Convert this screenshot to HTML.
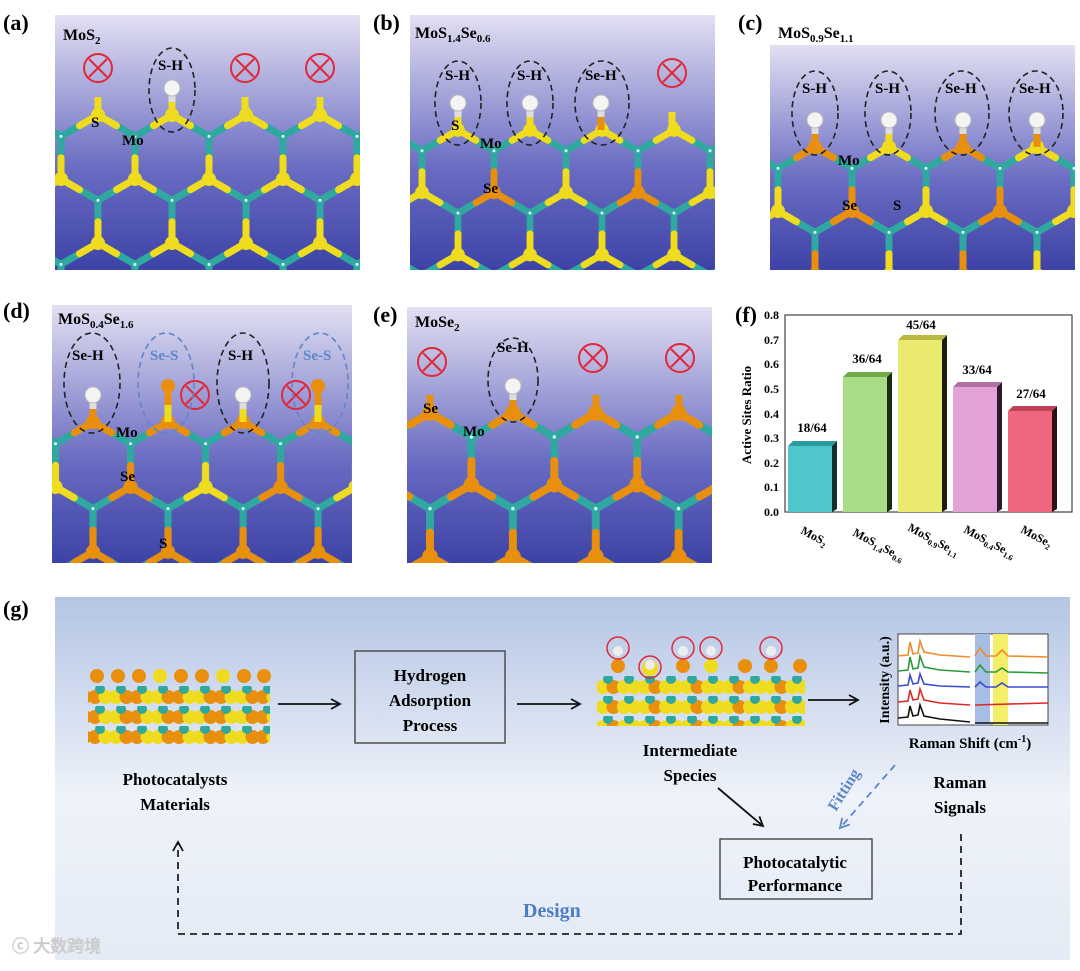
<!DOCTYPE html>
<html><head><meta charset="utf-8">
<style>
html,body{margin:0;padding:0;background:#fff;}
body{width:1080px;height:966px;overflow:hidden;position:relative;font-family:"Liberation Serif",serif;}
svg text{font-family:"Liberation Serif",serif;font-weight:bold;}
</style></head>
<body>
<svg width="1080" height="966" xmlns="http://www.w3.org/2000/svg" xmlns:xlink="http://www.w3.org/1999/xlink">
<defs>
<linearGradient id="pg" x1="0" y1="0" x2="0" y2="1">
<stop offset="0" stop-color="#e2e0f2"/><stop offset="0.3" stop-color="#a6a6da"/><stop offset="0.6" stop-color="#6a6cc2"/><stop offset="1" stop-color="#3d43a6"/>
</linearGradient>
<linearGradient id="gg" x1="0" y1="0" x2="0" y2="1">
<stop offset="0" stop-color="#b4c5e4"/><stop offset="0.55" stop-color="#eef2f9"/><stop offset="1" stop-color="#e4ebf6"/>
</linearGradient>
<marker id="ar" markerWidth="12" markerHeight="12" refX="10" refY="6" orient="auto" markerUnits="userSpaceOnUse"><path d="M1,1 L10,6 L1,11" fill="none" stroke="#111" stroke-width="1.8"/></marker>
<marker id="arb" markerWidth="12" markerHeight="12" refX="10" refY="6" orient="auto" markerUnits="userSpaceOnUse"><path d="M1,1 L10,6 L1,11" fill="none" stroke="#5b86c8" stroke-width="1.8"/></marker>

<g id="tile">
 <g stroke="#2fa8a0" stroke-width="7" stroke-linecap="round">
  <line x1="0" y1="0" x2="37" y2="21.4"/><line x1="74" y1="0" x2="37" y2="21.4"/><line x1="74" y1="0" x2="111" y2="21.4"/><line x1="148" y1="0" x2="111" y2="21.4"/>
  <line x1="37" y1="21.4" x2="37" y2="64"/><line x1="111" y1="21.4" x2="111" y2="64"/>
  <line x1="37" y1="64" x2="0" y2="85.4"/><line x1="37" y1="64" x2="74" y2="85.4"/><line x1="111" y1="64" x2="74" y2="85.4"/><line x1="111" y1="64" x2="148" y2="85.4"/>
  <line x1="0" y1="85.4" x2="0" y2="128"/><line x1="74" y1="85.4" x2="74" y2="128"/><line x1="148" y1="85.4" x2="148" y2="128"/>
 </g>
 <g stroke-width="7" stroke-linecap="round">
  <g style="stroke:var(--a0)"><line x1="0" y1="0" x2="18.5" y2="10.7"/><line x1="148" y1="0" x2="129.5" y2="10.7"/><line x1="0" y1="128" x2="0" y2="106.7"/><line x1="148" y1="128" x2="148" y2="106.7"/></g>
  <g style="stroke:var(--a1)"><line x1="74" y1="0" x2="55.5" y2="10.7"/><line x1="74" y1="0" x2="92.5" y2="10.7"/><line x1="74" y1="128" x2="74" y2="106.7"/></g>
  <g style="stroke:var(--b0)"><line x1="37" y1="64" x2="37" y2="42.7"/><line x1="37" y1="64" x2="18.5" y2="74.7"/><line x1="37" y1="64" x2="55.5" y2="74.7"/></g>
  <g style="stroke:var(--b1)"><line x1="111" y1="64" x2="111" y2="42.7"/><line x1="111" y1="64" x2="92.5" y2="74.7"/><line x1="111" y1="64" x2="129.5" y2="74.7"/></g>
 </g>
 <g style="fill:var(--a0)"><circle cx="0" cy="0" r="7"/><circle cx="148" cy="0" r="7"/><circle cx="0" cy="128" r="7"/><circle cx="148" cy="128" r="7"/></g>
 <g style="fill:var(--a1)"><circle cx="74" cy="0" r="7"/><circle cx="74" cy="128" r="7"/></g>
 <circle cx="37" cy="64" r="7" style="fill:var(--b0)"/>
 <circle cx="111" cy="64" r="7" style="fill:var(--b1)"/>
 <g fill="#2fa8a0"><circle cx="37" cy="21.4" r="4.5"/><circle cx="111" cy="21.4" r="4.5"/><circle cx="0" cy="85.4" r="4.5"/><circle cx="74" cy="85.4" r="4.5"/><circle cx="148" cy="85.4" r="4.5"/></g>
 <g fill="#dff"><circle cx="37" cy="21.4" r="1.5"/><circle cx="111" cy="21.4" r="1.5"/><circle cx="0" cy="85.4" r="1.5"/><circle cx="74" cy="85.4" r="1.5"/><circle cx="148" cy="85.4" r="1.5"/></g>
</g>

<pattern id="pa" patternUnits="userSpaceOnUse" width="148" height="128" patternTransform="translate(98,115)"><use xlink:href="#tile" href="#tile" style="--a0:#f0dc1e;--a1:#f0dc1e;--b0:#f0dc1e;--b1:#f0dc1e"/></pattern>
<pattern id="pb" patternUnits="userSpaceOnUse" width="148" height="128" patternTransform="translate(458,130) scale(0.973)"><use xlink:href="#tile" href="#tile" style="--a0:#f0dc1e;--a1:#f0dc1e;--b0:#e8900e;--b1:#f0dc1e"/></pattern>
<pattern id="pc" patternUnits="userSpaceOnUse" width="148" height="128" patternTransform="translate(815,147)"><use xlink:href="#tile" href="#tile" style="--a0:#e8900e;--a1:#f0dc1e;--b0:#e8900e;--b1:#f0dc1e"/></pattern>
<pattern id="pd" patternUnits="userSpaceOnUse" width="148" height="128" patternTransform="translate(93,422) scale(1.014)"><use xlink:href="#tile" href="#tile" style="--a0:#e8900e;--a1:#e8900e;--b0:#e8900e;--b1:#f0dc1e"/></pattern>
<pattern id="pe" patternUnits="userSpaceOnUse" width="148" height="128" patternTransform="translate(430,413) scale(1.12)"><use xlink:href="#tile" href="#tile" style="--a0:#e8900e;--a1:#e8900e;--b0:#e8900e;--b1:#e8900e"/></pattern>

<pattern id="ps" patternUnits="userSpaceOnUse" width="42" height="20" patternTransform="translate(90,686)">
 <circle cx="5" cy="11" r="7" fill="#e8900e"/><circle cx="15.5" cy="11" r="7" fill="#f0dc1e"/><circle cx="26" cy="11" r="7" fill="#f0dc1e"/><circle cx="36.5" cy="11" r="7" fill="#e8900e"/>
 <circle cx="10" cy="3" r="5" fill="#2fa8a0"/><circle cx="31" cy="3" r="5" fill="#2fa8a0"/>
</pattern>
<pattern id="ps2" patternUnits="userSpaceOnUse" width="42" height="20" patternTransform="translate(598,676)">
 <circle cx="5" cy="11" r="7" fill="#f0dc1e"/><circle cx="15.5" cy="11" r="7" fill="#e8900e"/><circle cx="26" cy="11" r="7" fill="#f0dc1e"/><circle cx="36.5" cy="11" r="7" fill="#f0dc1e"/>
 <circle cx="10" cy="3" r="5" fill="#2fa8a0"/><circle cx="31" cy="3" r="5" fill="#2fa8a0"/>
</pattern>
</defs>

<!-- panel backgrounds + lattices -->
<rect x="55" y="15" width="305" height="255" fill="url(#pg)"/>
<rect x="55" y="107" width="305" height="163" fill="url(#pa)"/>
<rect x="410" y="15" width="305" height="255" fill="url(#pg)"/>
<rect x="410" y="122" width="305" height="148" fill="url(#pb)"/>
<rect x="770" y="45" width="305" height="225" fill="url(#pg)"/>
<rect x="770" y="139" width="305" height="131" fill="url(#pc)"/>
<rect x="52" y="305" width="300" height="258" fill="url(#pg)"/>
<rect x="52" y="414" width="300" height="149" fill="url(#pd)"/>
<rect x="407" y="307" width="305" height="256" fill="url(#pg)"/>
<rect x="407" y="405" width="305" height="158" fill="url(#pe)"/>

<!-- top sticks / H atoms -->
<g stroke-width="7">
 <!-- a -->
 <line x1="98" y1="115" x2="98" y2="97" stroke="#f0dc1e"/><line x1="245" y1="115" x2="245" y2="97" stroke="#f0dc1e"/><line x1="320" y1="115" x2="320" y2="97" stroke="#f0dc1e"/>
 <line x1="172" y1="115" x2="172" y2="102" stroke="#f0dc1e"/><line x1="172" y1="102" x2="172" y2="90" stroke="#ddd"/>
 <!-- b -->
 <line x1="458" y1="130" x2="458" y2="117" stroke="#f0dc1e"/><line x1="458" y1="117" x2="458" y2="105" stroke="#ddd"/>
 <line x1="530" y1="130" x2="530" y2="117" stroke="#f0dc1e"/><line x1="530" y1="117" x2="530" y2="105" stroke="#ddd"/>
 <line x1="601" y1="130" x2="601" y2="117" stroke="#e8900e"/><line x1="601" y1="117" x2="601" y2="105" stroke="#ddd"/>
 <line x1="672" y1="130" x2="672" y2="112" stroke="#f0dc1e"/>
 <!-- c -->
 <line x1="815" y1="147" x2="815" y2="134" stroke="#e8900e"/><line x1="815" y1="134" x2="815" y2="122" stroke="#ddd"/>
 <line x1="889" y1="147" x2="889" y2="134" stroke="#f0dc1e"/><line x1="889" y1="134" x2="889" y2="122" stroke="#ddd"/>
 <line x1="963" y1="147" x2="963" y2="134" stroke="#e8900e"/><line x1="963" y1="134" x2="963" y2="122" stroke="#ddd"/>
 <line x1="1037" y1="147" x2="1037" y2="134" stroke="#e8900e"/><line x1="1037" y1="134" x2="1037" y2="122" stroke="#ddd"/>
 <!-- d -->
 <line x1="93" y1="422" x2="93" y2="409" stroke="#e8900e"/><line x1="93" y1="409" x2="93" y2="397" stroke="#ddd"/>
 <line x1="168" y1="422" x2="168" y2="405" stroke="#f0dc1e"/><line x1="168" y1="405" x2="168" y2="388" stroke="#e8900e"/>
 <line x1="243" y1="422" x2="243" y2="409" stroke="#f0dc1e"/><line x1="243" y1="409" x2="243" y2="397" stroke="#ddd"/>
 <line x1="318" y1="422" x2="318" y2="405" stroke="#f0dc1e"/><line x1="318" y1="405" x2="318" y2="388" stroke="#e8900e"/>
 <!-- e -->
 <line x1="430" y1="413" x2="430" y2="395" stroke="#e8900e"/><line x1="596" y1="413" x2="596" y2="395" stroke="#e8900e"/><line x1="679" y1="413" x2="679" y2="395" stroke="#e8900e"/>
 <line x1="513" y1="413" x2="513" y2="400" stroke="#e8900e"/><line x1="513" y1="400" x2="513" y2="388" stroke="#ddd"/>
</g>
<g fill="#f4f4f4" stroke="#bbb" stroke-width="1">
 <circle cx="172" cy="88" r="8"/><circle cx="458" cy="103" r="8"/><circle cx="530" cy="103" r="8"/><circle cx="601" cy="103" r="8"/>
 <circle cx="815" cy="120" r="8"/><circle cx="889" cy="120" r="8"/><circle cx="963" cy="120" r="8"/><circle cx="1037" cy="120" r="8"/>
 <circle cx="93" cy="395" r="8"/><circle cx="243" cy="395" r="8"/><circle cx="513" cy="386" r="8"/>
</g>
<circle cx="168" cy="386" r="7" fill="#e8900e"/><circle cx="318" cy="386" r="7" fill="#e8900e"/>

<!-- crossed circles -->
<g fill="none" stroke="#e0283a" stroke-width="2">
 <circle cx="98" cy="68" r="14"/><path d="M89,59L107,77M107,59L89,77"/>
 <circle cx="245" cy="68" r="14"/><path d="M236,59L254,77M254,59L236,77"/>
 <circle cx="320" cy="68" r="14"/><path d="M311,59L329,77M329,59L311,77"/>
 <circle cx="672" cy="73" r="14"/><path d="M663,64L681,82M681,64L663,82"/>
 <circle cx="195" cy="395" r="14"/><path d="M186,386L204,404M204,386L186,404"/>
 <circle cx="296" cy="395" r="14"/><path d="M287,386L305,404M305,386L287,404"/>
 <circle cx="432" cy="362" r="14"/><path d="M423,353L441,371M441,353L423,371"/>
 <circle cx="593" cy="358" r="14"/><path d="M584,349L602,367M602,349L584,367"/>
 <circle cx="680" cy="358" r="14"/><path d="M671,349L689,367M689,349L671,367"/>
</g>

<!-- panel labels -->
<text x="3" y="30" font-size="22">(a)</text>
<text x="373" y="30" font-size="22">(b)</text>
<text x="738" y="30" font-size="22">(c)</text>
<text x="3" y="318" font-size="22">(d)</text>
<text x="373" y="322" font-size="22">(e)</text>
<text x="735" y="322" font-size="22">(f)</text>
<text x="3" y="616" font-size="22">(g)</text>

<!-- (a) -->
<text x="63" y="40" font-size="16">MoS<tspan font-size="11" dy="4">2</tspan></text>
<ellipse cx="172" cy="90" rx="23" ry="42" fill="none" stroke="#222" stroke-width="1.6" stroke-dasharray="6,4"/>
<text x="158" y="70" font-size="15">S-H</text>
<text x="91" y="127" font-size="15">S</text>
<text x="122" y="145" font-size="15">Mo</text>

<!-- (b) -->
<text x="415" y="38" font-size="16">MoS<tspan font-size="11" dy="4">1.4</tspan><tspan dy="-4">Se</tspan><tspan font-size="11" dy="4">0.6</tspan></text>
<ellipse cx="458" cy="103" rx="23" ry="42" fill="none" stroke="#222" stroke-width="1.6" stroke-dasharray="6,4"/>
<ellipse cx="530" cy="103" rx="23" ry="42" fill="none" stroke="#222" stroke-width="1.6" stroke-dasharray="6,4"/>
<ellipse cx="602" cy="103" rx="27" ry="42" fill="none" stroke="#222" stroke-width="1.6" stroke-dasharray="6,4"/>
<text x="445" y="80" font-size="15">S-H</text>
<text x="517" y="80" font-size="15">S-H</text>
<text x="585" y="80" font-size="15">Se-H</text>
<text x="451" y="130" font-size="15">S</text>
<text x="480" y="148" font-size="15">Mo</text>
<text x="483" y="193" font-size="15">Se</text>

<!-- (c) -->
<text x="778" y="38" font-size="16">MoS<tspan font-size="11" dy="4">0.9</tspan><tspan dy="-4">Se</tspan><tspan font-size="11" dy="4">1.1</tspan></text>
<ellipse cx="815" cy="113" rx="23" ry="42" fill="none" stroke="#222" stroke-width="1.6" stroke-dasharray="6,4"/>
<ellipse cx="888" cy="113" rx="23" ry="42" fill="none" stroke="#222" stroke-width="1.6" stroke-dasharray="6,4"/>
<ellipse cx="962" cy="113" rx="27" ry="42" fill="none" stroke="#222" stroke-width="1.6" stroke-dasharray="6,4"/>
<ellipse cx="1036" cy="113" rx="27" ry="42" fill="none" stroke="#222" stroke-width="1.6" stroke-dasharray="6,4"/>
<text x="802" y="93" font-size="15">S-H</text>
<text x="875" y="93" font-size="15">S-H</text>
<text x="945" y="93" font-size="15">Se-H</text>
<text x="1019" y="93" font-size="15">Se-H</text>
<text x="838" y="165" font-size="15">Mo</text>
<text x="842" y="210" font-size="15">Se</text>
<text x="893" y="210" font-size="15">S</text>

<!-- (d) -->
<text x="58" y="324" font-size="16">MoS<tspan font-size="11" dy="4">0.4</tspan><tspan dy="-4">Se</tspan><tspan font-size="11" dy="4">1.6</tspan></text>
<ellipse cx="92" cy="383" rx="28" ry="50" fill="none" stroke="#222" stroke-width="1.6" stroke-dasharray="6,4"/>
<ellipse cx="166" cy="383" rx="28" ry="50" fill="none" stroke="#5b86c8" stroke-width="1.6" stroke-dasharray="6,4"/>
<ellipse cx="243" cy="383" rx="26" ry="50" fill="none" stroke="#222" stroke-width="1.6" stroke-dasharray="6,4"/>
<ellipse cx="320" cy="383" rx="28" ry="50" fill="none" stroke="#5b86c8" stroke-width="1.6" stroke-dasharray="6,4"/>
<text x="72" y="360" font-size="15">Se-H</text>
<text x="150" y="360" font-size="15" fill="#5b86c8">Se-S</text>
<text x="228" y="360" font-size="15">S-H</text>
<text x="303" y="360" font-size="15" fill="#5b86c8">Se-S</text>
<text x="116" y="437" font-size="15">Mo</text>
<text x="120" y="481" font-size="15">Se</text>
<text x="159" y="548" font-size="15">S</text>

<!-- (e) -->
<text x="415" y="327" font-size="16">MoSe<tspan font-size="11" dy="4">2</tspan></text>
<ellipse cx="513" cy="380" rx="25" ry="42" fill="none" stroke="#222" stroke-width="1.6" stroke-dasharray="6,4"/>
<text x="497" y="352" font-size="15">Se-H</text>
<text x="423" y="413" font-size="15">Se</text>
<text x="463" y="436" font-size="15">Mo</text>

<!-- (f) chart -->
<rect x="785" y="315" width="287" height="197" fill="#fff" stroke="#444" stroke-width="1.2"/>
<g font-size="12" text-anchor="end">
<text x="779" y="516">0.0</text><text x="779" y="491">0.1</text><text x="779" y="467">0.2</text><text x="779" y="442">0.3</text><text x="779" y="418">0.4</text><text x="779" y="393">0.5</text><text x="779" y="368">0.6</text><text x="779" y="344">0.7</text><text x="779" y="319">0.8</text>
</g>
<text transform="translate(751,415) rotate(-90)" font-size="13" text-anchor="middle">Active Sites Ratio</text>
<g>
<polygon points="832,446 837,441 837,509 832,512" fill="#14302e"/><polygon points="788,446 793,441 837,441 832,446" fill="#2a9a9e"/><rect x="788" y="446" width="44" height="66" fill="#4fc6cc"/>
<polygon points="887,377 892,372 892,509 887,512" fill="#1b2b12"/><polygon points="843,377 848,372 892,372 887,377" fill="#70a84a"/><rect x="843" y="377" width="44" height="135" fill="#a9dc86"/>
<polygon points="942,340 947,335 947,509 942,512" fill="#1e1e10"/><polygon points="898,340 903,335 947,335 942,340" fill="#b8b840"/><rect x="898" y="340" width="44" height="172" fill="#eaea70"/>
<polygon points="997,387 1002,382 1002,509 997,512" fill="#2c1a28"/><polygon points="953,387 958,382 1002,382 997,387" fill="#b070a8"/><rect x="953" y="387" width="44" height="125" fill="#e2a2d6"/>
<polygon points="1052,411 1057,406 1057,509 1052,512" fill="#2c1016"/><polygon points="1008,411 1013,406 1057,406 1052,411" fill="#c04058"/><rect x="1008" y="411" width="44" height="101" fill="#ee6680"/>
</g>
<g font-size="13" text-anchor="middle">
<text x="812" y="432">18/64</text><text x="867" y="363">36/64</text><text x="921" y="329">45/64</text><text x="977" y="374">33/64</text><text x="1031" y="398">27/64</text>
</g>
<g font-size="12">
<text transform="translate(800,533) rotate(28)">MoS<tspan font-size="8" dy="3">2</tspan></text>
<text transform="translate(852,535) rotate(28)">MoS<tspan font-size="8" dy="3">1.4</tspan><tspan dy="-3">Se</tspan><tspan font-size="8" dy="3">0.6</tspan></text>
<text transform="translate(907,530) rotate(28)">MoS<tspan font-size="8" dy="3">0.9</tspan><tspan dy="-3">Se</tspan><tspan font-size="8" dy="3">1.1</tspan></text>
<text transform="translate(963,532) rotate(28)">MoS<tspan font-size="8" dy="3">0.4</tspan><tspan dy="-3">Se</tspan><tspan font-size="8" dy="3">1.6</tspan></text>
<text transform="translate(1020,532) rotate(28)">MoSe<tspan font-size="8" dy="3">2</tspan></text>
</g>

<!-- (g) -->
<rect x="55" y="597" width="1015" height="363" fill="url(#gg)"/>
<!-- left strip -->
<g fill="#e8900e"><circle cx="97" cy="676" r="7"/><circle cx="118" cy="676" r="7"/><circle cx="139" cy="676" r="7"/><circle cx="160" cy="676" r="7" fill="#f0dc1e"/><circle cx="181" cy="676" r="7"/><circle cx="202" cy="676" r="7"/><circle cx="223" cy="676" r="7" fill="#f0dc1e"/><circle cx="244" cy="676" r="7"/><circle cx="264" cy="676" r="7"/></g>
<rect x="88" y="684" width="182" height="62" fill="url(#ps)"/>
<!-- intermediate strip -->
<g fill="#e8900e"><circle cx="618" cy="666" r="7"/><circle cx="650" cy="668" r="8" fill="#f0dc1e"/><circle cx="683" cy="666" r="7"/><circle cx="711" cy="666" r="7" fill="#f0dc1e"/><circle cx="745" cy="666" r="7"/><circle cx="771" cy="666" r="7"/><circle cx="800" cy="666" r="7"/></g>
<rect x="597" y="674" width="208" height="52" fill="url(#ps2)"/>
<g fill="#eee"><circle cx="618" cy="651" r="5"/><circle cx="650" cy="665" r="5"/><circle cx="683" cy="651" r="5"/><circle cx="711" cy="651" r="5"/><circle cx="771" cy="651" r="5"/></g>
<g fill="none" stroke="#e0283a" stroke-width="1.5"><circle cx="618" cy="648" r="11"/><circle cx="650" cy="667" r="11"/><circle cx="683" cy="648" r="11"/><circle cx="711" cy="648" r="11"/><circle cx="771" cy="648" r="11"/></g>

<line x1="278" y1="704" x2="340" y2="704" stroke="#111" stroke-width="1.8" marker-end="url(#ar)"/>
<rect x="355" y="651" width="150" height="92" fill="none" stroke="#444" stroke-width="1.4"/>
<g font-size="17" text-anchor="middle">
<text x="430" y="681">Hydrogen</text><text x="430" y="706">Adsorption</text><text x="430" y="731">Process</text>
<text x="175" y="785">Photocatalysts</text><text x="175" y="810">Materials</text>
<text x="690" y="756">Intermediate</text><text x="690" y="781">Species</text>
<text x="960" y="788">Raman</text><text x="960" y="813">Signals</text>
<text x="795" y="868">Photocatalytic</text><text x="795" y="891">Performance</text>
</g>
<line x1="517" y1="704" x2="580" y2="704" stroke="#111" stroke-width="1.8" marker-end="url(#ar)"/>
<line x1="808" y1="700" x2="858" y2="700" stroke="#111" stroke-width="1.8" marker-end="url(#ar)"/>
<rect x="720" y="839" width="152" height="60" fill="none" stroke="#444" stroke-width="1.4"/>
<line x1="718" y1="788" x2="763" y2="826" stroke="#111" stroke-width="1.8" marker-end="url(#ar)"/>
<line x1="895" y1="765" x2="840" y2="828" stroke="#5b86c8" stroke-width="1.8" stroke-dasharray="7,5" marker-end="url(#arb)"/>
<text transform="translate(836,812) rotate(-58)" font-size="16" fill="#5b86c8">Fitting</text>
<path d="M961,834 L961,934 L178,934 L178,842" fill="none" stroke="#222" stroke-width="1.8" stroke-dasharray="7,5" marker-end="url(#ar)"/>
<text x="523" y="917" font-size="20" fill="#4f7cc4">Design</text>
<!-- raman -->
<rect x="898" y="634" width="150" height="91" fill="#fff" stroke="#444" stroke-width="1"/>
<rect x="975" y="634" width="15" height="91" fill="#a6bde6"/>
<rect x="993" y="634" width="15" height="91" fill="#f4ee6a"/>
<text transform="translate(889,680) rotate(-90)" font-size="14" text-anchor="middle">Intensity (a.u.)</text>
<text x="970" y="748" font-size="15" text-anchor="middle">Raman Shift (cm<tspan font-size="10" dy="-6">-1</tspan><tspan dy="6">)</tspan></text>
<g fill="none" stroke-width="1.6">
<path d="M898,656 L908,655 L910,642 L913,654 L918,653 L920,641 L924,652 L940,655 L970,657 M975,656 L980,648 L986,656 L996,656 L1002,650 L1008,656 L1048,657" stroke="#f08a2a"/>
<path d="M898,671 L908,670 L910,657 L913,669 L918,668 L920,656 L924,667 L940,670 L970,672 M975,672 L980,665 L986,672 L996,672 L1002,668 L1008,672 L1048,673" stroke="#2a9a3a"/>
<path d="M898,686 L908,685 L910,675 L913,684 L918,683 L920,674 L924,684 L940,686 L970,687 M975,687 L980,682 L986,687 L996,687 L1002,683 L1008,687 L1048,687" stroke="#3a4ad0"/>
<path d="M898,702 L908,701 L910,690 L913,700 L918,699 L920,689 L924,700 L940,703 L970,705 M975,705 L1048,703" stroke="#e02828"/>
<path d="M898,718 L908,717 L910,706 L913,716 L918,715 L920,705 L924,716 L940,719 L970,722 M975,723 L1048,723" stroke="#111"/>
</g>
<text x="12" y="952" font-size="17" fill="#ccc" font-family="Noto Sans CJK SC,sans-serif">ⓒ 大数跨境</text>
</svg>
</body></html>
